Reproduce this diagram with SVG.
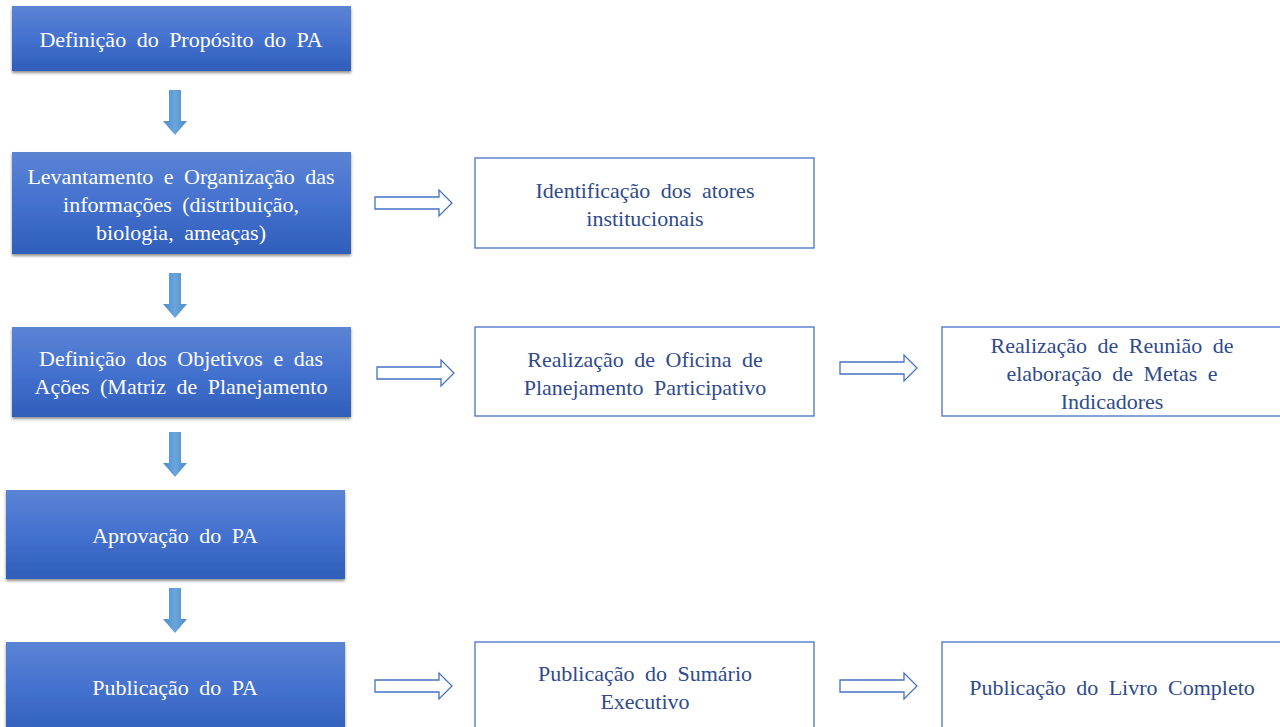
<svg xmlns="http://www.w3.org/2000/svg" width="1280" height="727" viewBox="0 0 1280 727">
<defs>
<linearGradient id="gBox" x1="0" y1="0" x2="0" y2="1">
<stop offset="0" stop-color="#5B84D4"/>
<stop offset="0.5" stop-color="#4471CF"/>
<stop offset="1" stop-color="#2F5EB9"/>
</linearGradient>
<linearGradient id="gArr" x1="0" y1="0" x2="1" y2="0">
<stop offset="0" stop-color="#4A8BCB"/>
<stop offset="0.5" stop-color="#6AA6DD"/>
<stop offset="1" stop-color="#4A8BCB"/>
</linearGradient>
<filter id="sh" x="-5%" y="-10%" width="110%" height="130%">
<feGaussianBlur in="SourceAlpha" stdDeviation="1.5"/>
<feOffset dx="0" dy="2" result="b"/>
<feComponentTransfer><feFuncA type="linear" slope="0.45"/></feComponentTransfer>
<feMerge><feMergeNode/><feMergeNode in="SourceGraphic"/></feMerge>
</filter>
<path id="hollow" d="M0,7 H64 V0 L77,13 L64,26 V19 H0 Z"/>
<path id="down" d="M-6,0 H6 V31 H12 L0,45 L-12,31 H-6 Z"/>
</defs>
<style>
.blue{fill:url(#gBox);filter:url(#sh)}
.wt{fill:#FFFFFF;font-family:"Liberation Serif","Times New Roman",serif;font-size:22px;text-anchor:middle;word-spacing:5px}
.wb{fill:#FFFFFF;stroke:#4472C4;stroke-width:1.3}
.bt{fill:#2F4B8C;font-family:"Liberation Serif","Times New Roman",serif;font-size:22px;text-anchor:middle;word-spacing:5px}
.ha{fill:#FFFFFF;stroke:#4472C4;stroke-width:1.3}
.da{fill:url(#gArr)}
</style>
<rect width="1280" height="727" fill="#FFFFFF"/>
<g id="connectors">
<use href="#down" x="175" y="90" class="da"/>
<use href="#down" x="175" y="273" class="da"/>
<use href="#down" x="175" y="432" class="da"/>
<use href="#down" x="175" y="588" class="da"/>
<use href="#hollow" x="375" y="190" class="ha"/>
<use href="#hollow" x="377" y="360" class="ha"/>
<use href="#hollow" x="840" y="355" class="ha"/>
<use href="#hollow" x="375" y="673" class="ha"/>
<use href="#hollow" x="840" y="673" class="ha"/>
</g>
<g id="n1"><rect class="blue" x="12" y="6" width="339" height="65"/><text class="wt" x="181" y="47">Definição do Propósito do PA</text></g>
<g id="n2"><rect class="blue" x="12" y="152" width="339" height="102"/><text class="wt" x="181" y="184">Levantamento e Organização das</text><text class="wt" x="181" y="212">informações (distribuição,</text><text class="wt" x="181" y="240">biologia, ameaças)</text></g>
<g id="n3"><rect class="blue" x="12" y="327" width="339" height="90"/><text class="wt" x="181" y="366">Definição dos Objetivos e das</text><text class="wt" x="181" y="394">Ações (Matriz de Planejamento</text></g>
<g id="n4"><rect class="blue" x="6" y="490" width="339" height="89"/><text class="wt" x="175" y="543">Aprovação do PA</text></g>
<g id="n5"><rect class="blue" x="6" y="642" width="339" height="95"/><text class="wt" x="175" y="695">Publicação do PA</text></g>
<g id="n6"><rect class="wb" x="475" y="158" width="339" height="90"/><text class="bt" x="645" y="198">Identificação dos atores</text><text class="bt" x="645" y="226">institucionais</text></g>
<g id="n7"><rect class="wb" x="475" y="327" width="339" height="89"/><text class="bt" x="645" y="367">Realização de Oficina de</text><text class="bt" x="645" y="395">Planejamento Participativo</text></g>
<g id="n8"><rect class="wb" x="942" y="327" width="345" height="89"/><text class="bt" x="1112" y="353">Realização de Reunião de</text><text class="bt" x="1112" y="381">elaboração de Metas e</text><text class="bt" x="1112" y="409">Indicadores</text></g>
<g id="n9"><rect class="wb" x="475" y="642" width="339" height="95"/><text class="bt" x="645" y="681">Publicação do Sumário</text><text class="bt" x="645" y="709">Executivo</text></g>
<g id="n10"><rect class="wb" x="942" y="642" width="345" height="95"/><text class="bt" x="1112" y="695">Publicação do Livro Completo</text></g>
</svg>
